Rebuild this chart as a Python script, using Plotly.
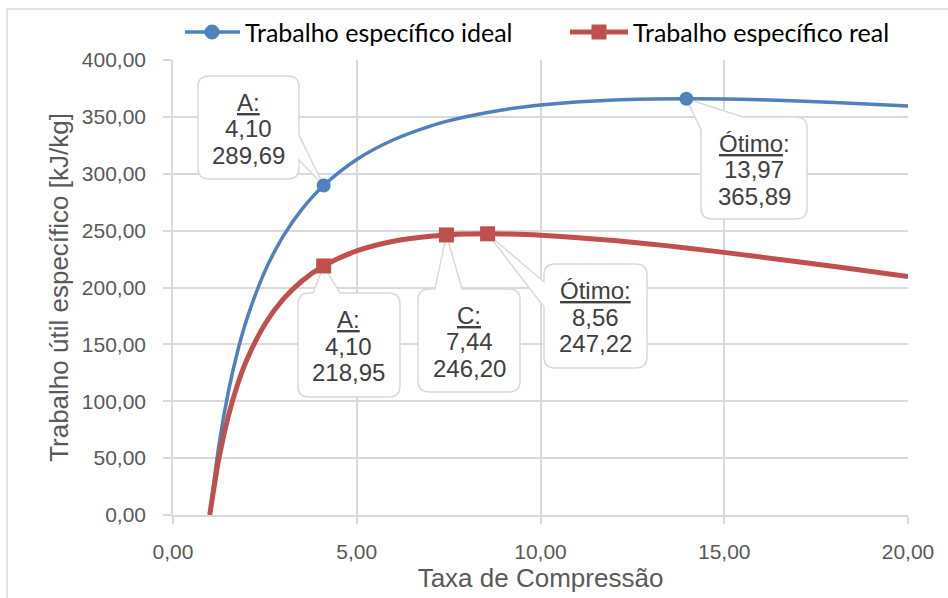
import plotly.graph_objects as go

# Compression ratio sweep and specific work [kJ/kg]
taxa = [1.0, 1.25, 1.5, 1.75, 2.0, 2.5, 3.0, 3.5, 4.10, 5.0, 6.0, 7.0, 7.44, 8.0,
        8.56, 9.0, 10.0, 12.0, 13.97, 16.0, 18.0, 20.0]
trabalho_ideal = [0.0, 61.6, 107.4, 142.9, 171.3, 214.3, 245.2, 268.5, 289.69, 312.6,
                  329.9, 341.9, 346.0, 350.3, 353.9, 356.3, 360.4, 364.8, 365.89,
                  365.0, 362.7, 359.5]
trabalho_real = [0.0, 49.9, 86.3, 114.0, 135.8, 167.7, 189.7, 205.5, 218.95, 232.2,
                 240.7, 245.1, 246.20, 247.0, 247.22, 247.1, 246.0, 241.3, 234.8,
                 226.8, 218.4, 209.7]

# Highlighted points
ideal_pts_x = [4.10, 13.97]
ideal_pts_y = [289.69, 365.89]
ideal_pts_lbl = ["<u>A:</u>", "<u>Ótimo</u>:"]
real_pts_x = [4.10, 7.44, 8.56]
real_pts_y = [218.95, 246.20, 247.22]
real_pts_lbl = ["<u>A:</u>", "<u>C:</u>", "<u>Ótimo:</u>"]

x_ticks = [0, 5, 10, 15, 20]
y_ticks = [0, 50, 100, 150, 200, 250, 300, 350, 400]

BLUE = "#4f81bd"
RED = "#c0504d"
GRID = "#d9d9d9"
TXT = "#595959"
LBL = "#404040"
FONT = "Liberation Sans, Arial, sans-serif"
LEG_FONT = "Lato, Liberation Sans, sans-serif"

W, H = 948, 598
ML, MR, MT, MB = 173, 40, 60, 83
PW, PH = W - ML - MR, H - MT - MB

fig = go.Figure()

fig.add_trace(go.Scatter(x=taxa, y=trabalho_ideal, mode="lines",
                         line=dict(color=BLUE, width=3.5, shape="spline", smoothing=0.8),
                         showlegend=False, hoverinfo="skip"))
fig.add_trace(go.Scatter(x=taxa, y=trabalho_real, mode="lines",
                         line=dict(color=RED, width=5, shape="spline", smoothing=0.8),
                         showlegend=False, hoverinfo="skip"))
fig.add_trace(go.Scatter(x=ideal_pts_x, y=ideal_pts_y, mode="markers",
                         marker=dict(color=BLUE, size=14, symbol="circle"),
                         showlegend=False))
fig.add_trace(go.Scatter(x=real_pts_x, y=real_pts_y, mode="markers",
                         marker=dict(color=RED, size=15, symbol="square"),
                         showlegend=False))


def fmt(v):
    return f"{v:.2f}".replace(".", ",")


def pt(x, y):
    # screen offsets (y down) -> shape pixel offsets (y up)
    return f"{x:.1f},{-y:.1f}"


def bubble(L, T, R, B, tail, r=11):
    kind = tail[0]
    if kind == "corner_tl":
        cmds = [f"M{pt(tail[2], T)}"]
    else:
        cmds = [f"M{pt(L + r, T)}"]
    if kind == "top":
        cmds += [f"L{pt(tail[1], T)}", f"L{pt(0, 0)}", f"L{pt(tail[2], T)}"]
    cmds += [f"L{pt(R - r, T)}", f"Q{pt(R, T)} {pt(R, T + r)}"]
    if kind == "right":
        cmds += [f"L{pt(R, tail[1])}", f"L{pt(0, 0)}", f"L{pt(R, tail[2])}"]
    cmds += [f"L{pt(R, B - r)}", f"Q{pt(R, B)} {pt(R - r, B)}",
             f"L{pt(L + r, B)}", f"Q{pt(L, B)} {pt(L, B - r)}"]
    if kind == "left":
        cmds += [f"L{pt(L, tail[2])}", f"L{pt(0, 0)}", f"L{pt(L, tail[1])}"]
    if kind == "corner_tl":
        cmds += [f"L{pt(L, tail[1])}", f"L{pt(0, 0)}", "Z"]
    else:
        cmds += [f"L{pt(L, T + r)}", f"Q{pt(L, T)} {pt(L + r, T)}", "Z"]
    return " ".join(cmds)


# callout geometry: box (left, top, right, bottom) relative to the point, tail spec
callouts = [
    (ideal_pts_x[0], ideal_pts_y[0], ideal_pts_lbl[0], (-125.7, -109.5, -24.7, -6.5), ("right", -50.5, -25.5)),
    (ideal_pts_x[1], ideal_pts_y[1], ideal_pts_lbl[1], (14.6, 18.2, 120.6, 120.2), ("corner_tl", 31.2, 56.6)),
    (real_pts_x[0], real_pts_y[0], real_pts_lbl[0], (-25.7, 27.0, 76.3, 131.0), ("top", -10.7, 16.3)),
    (real_pts_x[1], real_pts_y[1], real_pts_lbl[1], (-28.4, 54.0, 73.6, 157.0), ("top", -11.4, 15.6)),
    (real_pts_x[2], real_pts_y[2], real_pts_lbl[2], (56.4, 30.2, 159.4, 134.2), ("left", 48.2, 73.2)),
]

shapes = []
annotations = []
for xv, yv, lbl, (L, T, R, B), tail in callouts:
    shapes.append(dict(type="path", xref="x", yref="y", xsizemode="pixel", ysizemode="pixel",
                       xanchor=xv, yanchor=yv, path=bubble(L, T, R, B, tail),
                       fillcolor="white", line=dict(color=GRID, width=1.5), layer="between"))
    cx = (L + R) / 2
    cy = (T + B) / 2 + 1.5
    for k, txt in enumerate([lbl, fmt(xv), fmt(yv)]):
        annotations.append(dict(x=xv, y=yv, xref="x", yref="y", text=txt, showarrow=False,
                                xshift=cx, yshift=-(cy + (k - 1) * 26.5),
                                xanchor="center", yanchor="middle",
                                font=dict(family=FONT, size=24, color=LBL)))

# outer chart frame
shapes.append(dict(type="rect", xref="paper", yref="paper",
                   x0=(7 - ML) / PW, x1=(952 - ML) / PW,
                   y0=(H - MB - 603) / PH, y1=(H - MB - 9) / PH,
                   line=dict(color=GRID, width=1.5), fillcolor="rgba(0,0,0,0)", layer="below"))


# legend
def px_x(p):
    return (p - ML) / PW


def px_y(p):
    return (H - MB - p) / PH


leg_y = 32
legend_items = [("Trabalho específico ideal", BLUE, 3.5, 185, 240, 212, "circle", 243),
                ("Trabalho específico real", RED, 5, 570, 628, 599, "square", 631)]
for name, col, lw, x0, x1, xm, sym, xt in legend_items:
    shapes.append(dict(type="line", xref="paper", yref="paper", x0=px_x(x0), x1=px_x(x1),
                       y0=px_y(leg_y), y1=px_y(leg_y), line=dict(color=col, width=lw)))
    half = 7.5
    shapes.append(dict(type="circle" if sym == "circle" else "rect", xref="paper", yref="paper",
                       xsizemode="pixel", ysizemode="pixel", xanchor=px_x(xm), yanchor=px_y(leg_y),
                       x0=-half, x1=half, y0=-half, y1=half, fillcolor=col,
                       line=dict(color=col, width=0)))
    annotations.append(dict(x=px_x(xt), y=px_y(leg_y), xref="paper", yref="paper", text=name,
                            showarrow=False, xanchor="left", yanchor="middle",
                            font=dict(family=LEG_FONT, size=25, color="#000000")))

axis_common = dict(showgrid=True, gridcolor=GRID, gridwidth=1.5, showline=True, linecolor=GRID,
                   linewidth=1.5, ticks="outside", tickcolor=GRID, tickwidth=1.5, zeroline=False,
                   tickformat=".2f", tickfont=dict(family=FONT, size=21, color=TXT))

fig.update_layout(
    width=W, height=H, margin=dict(l=ML, r=MR, t=MT, b=MB, autoexpand=False),
    paper_bgcolor="white", plot_bgcolor="white", separators=",.",
    showlegend=False,
    xaxis=dict(range=[0, 20], tickvals=x_ticks, ticklen=7, ticklabelstandoff=10,
               title=dict(text="Taxa de Compressão", font=dict(family=FONT, size=26, color=TXT),
                          standoff=6),
               **axis_common),
    yaxis=dict(range=[0, 400], tickvals=y_ticks, ticklen=8, ticklabelstandoff=13,
               title=dict(text="Trabalho útil específico [kJ/kg]",
                          font=dict(family=FONT, size=26, color=TXT), standoff=6),
               **axis_common),
    shapes=shapes, annotations=annotations,
)

fig.write_html("out.html")
